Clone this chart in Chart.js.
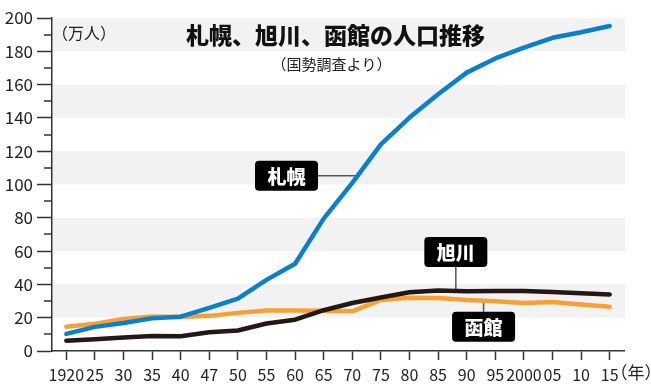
<!DOCTYPE html>
<html><head><meta charset="utf-8">
<script src="https://cdn.jsdelivr.net/npm/chart.js@4/dist/chart.umd.min.js"></script>
<style>html,body{margin:0;padding:0;background:#fff;}#wrap{width:651px;height:391px;position:relative;}</style>
</head><body><div id="wrap"><canvas id="c" width="651" height="391"></canvas></div>
<script>
// ---- data (万人) ----
const years = ['1920','25','30','35','40','47','50','55','60','65','70','75','80','85','90','95','2000','05','10','15'];
const sapporo   = [10.3,14.5,16.8,19.7,20.6,25.9,31.4,42.7,52.4,79.5,101.0,124.1,140.2,154.2,167.2,175.7,182.2,188.1,191.4,195.2];
const asahikawa = [6.2,7.1,8.1,9.0,8.8,11.2,12.3,16.5,18.8,24.5,28.8,32.1,35.3,36.4,35.9,36.1,36.0,35.5,34.7,34.0];
const hakodate  = [14.5,16.4,19.2,20.7,20.4,21.1,22.9,24.3,24.3,24.2,23.8,30.7,32.0,31.9,30.7,29.9,28.8,29.4,27.9,26.6];
const seriesNames = ['札幌','旭川','函館'];
const yTickValues = [0,20,40,60,80,100,120,140,160,180,200];
const titleText = '札幌、旭川、函館の人口推移';
const subtitleText = '（国勢調査より）';
const yUnitText = '（万人）';
const xUnitText = '（年）';

const FONT = "'Noto Sans CJK JP','Noto Sans',sans-serif";
const C_SAP = '#0a7fcc', C_ASA = '#231815', C_HAK = '#f8a035';

function interp(arr, idx){ const i=Math.floor(idx), f=idx-i; return i>=arr.length-1?arr[arr.length-1]:arr[i]+(arr[i+1]-arr[i])*f; }
function crossIndex(arr, v){ for(let i=0;i<arr.length-1;i++){ if((arr[i]-v)*(arr[i+1]-v)<=0){ return i+(v-arr[i])/(arr[i+1]-arr[i]); } } return 0; }

// label boxes: centre in data space (category index, value)
const boxes = [
  {text:seriesNames[0], cx:7.70, cy:105.3, series:sapporo, lead:'right'},
  {text:seriesNames[1], cx:13.62, cy:59.5, series:asahikawa, lead:'down'},
  {text:seriesNames[2], cx:14.59, cy:14.6, series:hakodate, lead:'up'},
];

const deco = {
  id:'deco',
  beforeDatasetsDraw(chart){
    const {ctx, chartArea:a, scales:{x,y}} = chart;
    ctx.save();
    ctx.fillStyle = '#f2f2f2';
    for (let v=20; v<200; v+=40){
      const y1=y.getPixelForValue(v+20), y2=y.getPixelForValue(v);
      ctx.fillRect(a.left+1, y1, a.right-a.left, y2-y1);
    }
    // leader lines
    ctx.strokeStyle='#555'; ctx.lineWidth=1.5;
    boxes.forEach(b=>{
      const px=x.getPixelForValue(b.cx), py=y.getPixelForValue(b.cy);
      ctx.beginPath();
      if (b.lead==='right'){
        const tx=x.getPixelForValue(crossIndex(b.series,b.cy));
        ctx.moveTo(px+31,py); ctx.lineTo(tx,py);
      } else if (b.lead==='down'){
        const ty=y.getPixelForValue(interp(b.series,b.cx));
        ctx.moveTo(px,py+15); ctx.lineTo(px,ty);
      } else {
        const ty=y.getPixelForValue(interp(b.series,b.cx));
        ctx.moveTo(px,py-15); ctx.lineTo(px,ty);
      }
      ctx.stroke();
    });
    ctx.restore();
  },
  afterDraw(chart){
    const {ctx, scales:{x,y}} = chart;
    ctx.save();
    // minor ticks
    ctx.strokeStyle='#333'; ctx.lineWidth=1.5;
    for (let v=10; v<200; v+=20){
      const py=Math.round(y.getPixelForValue(v));
      ctx.beginPath(); ctx.moveTo(44,py); ctx.lineTo(52,py); ctx.stroke();
    }
    // boxes
    boxes.forEach(b=>{
      const px=x.getPixelForValue(b.cx), py=y.getPixelForValue(b.cy);
      ctx.fillStyle='#000';
      ctx.beginPath(); ctx.roundRect(px-31.5,py-15,63,30,4); ctx.fill();
      ctx.fillStyle='#fff'; ctx.font='900 19px '+FONT; ctx.textAlign='center'; ctx.textBaseline='middle';
      ctx.fillText(b.text, px, py+1);
    });
    // texts
    ctx.fillStyle='#111'; ctx.textAlign='center'; ctx.textBaseline='middle';
    ctx.font='900 23px '+FONT; ctx.fillText(titleText, 335.5, 35.5);
    ctx.fillStyle='#222';
    ctx.font='15px '+FONT; ctx.fillText(subtitleText, 331.5, 64);
    ctx.font='16px '+FONT; ctx.fillText(yUnitText, 84, 33);
    ctx.font='17px '+FONT; ctx.fillText(xUnitText, 636, 373);
    ctx.restore();
  }
};

const common = {pointRadius:0, borderWidth:4.5, tension:0, borderJoinStyle:'round', borderCapStyle:'round', fill:false};
new Chart(document.getElementById('c'), {
  type:'line',
  data:{ labels:years, datasets:[
    {...common, label:seriesNames[0], data:sapporo, borderColor:C_SAP, order:1},
    {...common, label:seriesNames[1], data:asahikawa, borderColor:C_ASA, order:2},
    {...common, label:seriesNames[2], data:hakodate, borderColor:C_HAK, order:3},
  ]},
  options:{
    responsive:false, animation:false, devicePixelRatio:1,
    layout:{padding:{top:18,right:27,left:0,bottom:0}},
    plugins:{legend:{display:false}, tooltip:{enabled:false}},
    scales:{
      x:{ type:'category', offset:true,
          grid:{offset:false, drawOnChartArea:false, tickLength:9, tickColor:'#333', tickWidth:1.5},
          border:{color:'#333', width:1.5},
          ticks:{autoSkip:false, maxRotation:0, minRotation:0, color:'#222', padding:5, font:{family:FONT, size:16}},
          afterFit(s){ s.height=40; } },
      y:{ min:0, max:200,
          afterBuildTicks(s){ s.ticks = yTickValues.map(v=>({value:v})); },
          grid:{drawOnChartArea:false, tickLength:15, tickColor:'#333', tickWidth:1.5},
          border:{color:'#333', width:1.5},
          ticks:{color:'#222', padding:4, font:{family:FONT, size:17}},
          afterFit(s){ s.width=52; } }
    }
  },
  plugins:[deco]
});
</script></body></html>
